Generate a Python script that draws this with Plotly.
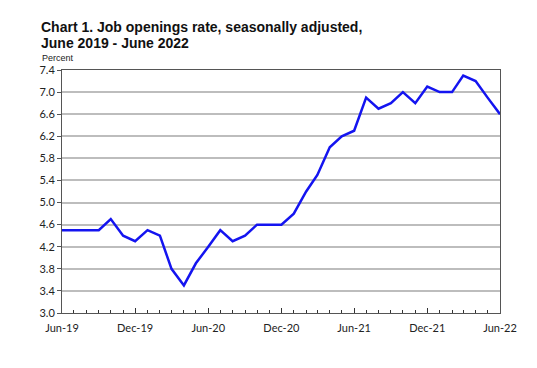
import plotly.graph_objects as go

months = [
    "2019-06-01", "2019-07-01", "2019-08-01", "2019-09-01", "2019-10-01", "2019-11-01",
    "2019-12-01", "2020-01-01", "2020-02-01", "2020-03-01", "2020-04-01", "2020-05-01",
    "2020-06-01", "2020-07-01", "2020-08-01", "2020-09-01", "2020-10-01", "2020-11-01",
    "2020-12-01", "2021-01-01", "2021-02-01", "2021-03-01", "2021-04-01", "2021-05-01",
    "2021-06-01", "2021-07-01", "2021-08-01", "2021-09-01", "2021-10-01", "2021-11-01",
    "2021-12-01", "2022-01-01", "2022-02-01", "2022-03-01", "2022-04-01", "2022-05-01",
    "2022-06-01",
]
rate = [
    4.5, 4.5, 4.5, 4.5, 4.7, 4.4,
    4.3, 4.5, 4.4, 3.8, 3.5, 3.9,
    4.2, 4.5, 4.3, 4.4, 4.6, 4.6,
    4.6, 4.8, 5.2, 5.5, 6.0, 6.2,
    6.3, 6.9, 6.7, 6.8, 7.0, 6.8,
    7.1, 7.0, 7.0, 7.3, 7.2, 6.9,
    6.6,
]
x_tick_vals = ["2019-06-01", "2019-12-01", "2020-06-01", "2020-12-01",
               "2021-06-01", "2021-12-01", "2022-06-01"]
x_tick_text = ["Jun-19", "Dec-19", "Jun-20", "Dec-20", "Jun-21", "Dec-21", "Jun-22"]
title_lines = ["Chart 1. Job openings rate, seasonally adjusted,",
               "June 2019 - June 2022"]
y_label = "Percent"

# page body has an 8px margin; figure sits at (8, 8) in the window
OFF = 8
W, H = 537 - 2 * OFF, 368 - 2 * OFF
PL, PR, PT, PB = 62, 500, 70, 313          # plot box in window pixels
L, T = PL - OFF, PT - OFF
R = W - (PR - OFF)
B = H - (PB - OFF)
pw, ph = PR - PL, PB - PT

def px_x(x):
    return (x - PL) / pw

def px_y(y):
    return 1 + (PT - y) / ph

fig = go.Figure()
fig.add_trace(go.Scatter(
    x=months, y=rate, mode="lines",
    line=dict(color="#1414f0", width=2.5),
    showlegend=False, hoverinfo="skip",
))

fig.update_layout(
    width=W, height=H,
    margin=dict(l=L, r=R, t=T, b=B),
    paper_bgcolor="white", plot_bgcolor="white",
    font=dict(family="Lato, Liberation Sans, sans-serif", color="#222222"),
    xaxis=dict(
        type="date",
        range=["2019-06-01", "2022-06-01"],
        tickvals=x_tick_vals, ticktext=x_tick_text,
        ticks="inside", ticklen=5, tickwidth=1, tickcolor="#333333",
        minor=dict(dtick="M1", tick0="2019-06-01", ticks="inside", ticklen=3,
                   tickcolor="#333333", showgrid=False),
        showgrid=False, showline=True, linecolor="#555555", linewidth=1,
        mirror=True, tickfont=dict(size=11, color="#222222"),
        ticklabelstandoff=5,
        zeroline=False,
    ),
    yaxis=dict(
        range=[3.0, 7.4], dtick=0.4, tick0=3.0, tickformat=".1f",
        ticks="outside", ticklen=4, tickcolor="#555555",
        showgrid=True, gridcolor="#bdbdbd", gridwidth=2,
        showline=True, linecolor="#555555", linewidth=1, mirror=True,
        tickfont=dict(size=11, color="#222222"), zeroline=False,
    ),
    annotations=[
        dict(text="<b>" + title_lines[0] + "</b>", xref="paper", yref="paper",
             x=px_x(39), y=px_y(27), xanchor="left", yanchor="middle",
             showarrow=False,
             font=dict(family="Liberation Sans, Arial, sans-serif", size=14, color="#111111")),
        dict(text="<b>" + title_lines[1] + "</b>", xref="paper", yref="paper",
             x=px_x(39), y=px_y(43), xanchor="left", yanchor="middle",
             showarrow=False,
             font=dict(family="Liberation Sans, Arial, sans-serif", size=14, color="#111111")),
        dict(text=y_label, xref="paper", yref="paper",
             x=px_x(40), y=px_y(58.5), xanchor="left", yanchor="middle",
             showarrow=False,
             font=dict(family="Liberation Sans, Arial, sans-serif", size=9, color="#222222")),
    ],
)

fig.write_html("out.html")
